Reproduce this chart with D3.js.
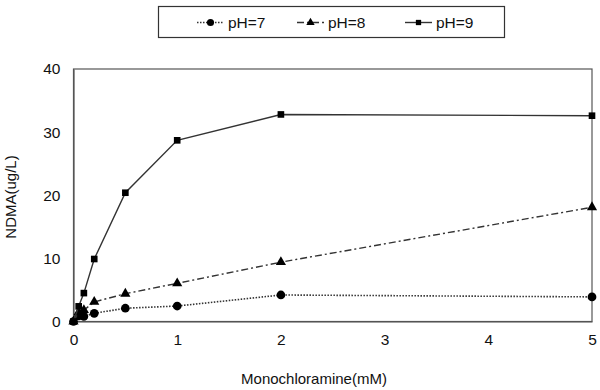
<!DOCTYPE html>
<html>
<head>
<meta charset="utf-8">
<script src="https://cdn.jsdelivr.net/npm/d3@7"></script>
<style>
	body { margin: 0; background: #fff; }
	svg text { font-family: "Liberation Sans", Arial, sans-serif; fill: #111; }
</style>
</head>
<body>
<svg id="chart" width="600" height="390"></svg>
<script>
(function(){

	var dose = [0, 0.05, 0.1, 0.2, 0.5, 1, 2, 5];
	var ph7 = [0, 0.9, 0.8, 1.3, 2.1, 2.45, 4.2, 3.9];
	var ph8 = [0, 1.5, 1.8, 3.1, 4.4, 6.05, 9.4, 18.1];
	var ph9 = [0, 2.4, 4.5, 9.9, 20.4, 28.7, 32.8, 32.6];
	var xTicks = [0, 1, 2, 3, 4, 5];
	var yTicks = [0, 10, 20, 30, 40];
	var seriesNames = ["pH=7", "pH=8", "pH=9"];

	var series = [
		{ name : seriesNames[0], values : ph7, dash : "1.5,1.5", width : 1.6, marker : "circle" },
		{ name : seriesNames[1], values : ph8, dash : "7,3,2,3", width : 1.4, marker : "triangle" },
		{ name : seriesNames[2], values : ph9, dash : null, width : 1.4, marker : "square" }
	];

	var svg = d3.select("#chart");

	var x = d3.scaleLinear().domain([0, 5]).range([73.5, 592]);
	var y = d3.scaleLinear().domain([0, 40]).range([321.5, 69]);

	// plot frame
	svg.append("rect")
		.attr("x", x(0)).attr("y", y(40))
		.attr("width", x(5) - x(0)).attr("height", y(0) - y(40))
		.attr("fill", "none").attr("stroke", "#555").attr("stroke-width", 1.2);

	var xAxis = svg.append("g").attr("transform", "translate(0," + y(0) + ")")
		.call(d3.axisBottom(x).tickValues(xTicks).tickSize(0).tickPadding(12).tickFormat(d3.format("d")));
	var yAxis = svg.append("g").attr("transform", "translate(" + x(0) + ",0)")
		.call(d3.axisLeft(y).tickValues(yTicks).tickSize(0).tickPadding(13));

	[xAxis, yAxis].forEach(function(a){
		a.select(".domain").attr("stroke", "#555").attr("stroke-width", 1.2);
		a.selectAll("text").attr("font-size", 15.5).attr("font-family", "Liberation Sans, Arial, sans-serif").attr("fill", "#111");
	});

	svg.append("text")
		.attr("x", 314).attr("y", 384)
		.attr("text-anchor", "middle").attr("font-size", 15)
		.text("Monochloramine(mM)");

	svg.append("text")
		.attr("transform", "translate(16,197) rotate(-90)")
		.attr("text-anchor", "middle").attr("font-size", 15)
		.text("NDMA(ug/L)");

	var symbolFor = {
		circle : d3.symbol().type(d3.symbolCircle).size(60),
		triangle : d3.symbol().type(d3.symbolTriangle).size(45),
		square : d3.symbol().type(d3.symbolSquare).size(44)
	};

	var line = d3.line()
		.x(function(d) { return x(d[0]); })
		.y(function(d) { return y(d[1]); });

	series.forEach(function(s){
		var pts = dose.map(function(d, i) { return [d, s.values[i]]; });
		svg.append("path")
			.datum(pts)
			.attr("d", line)
			.attr("fill", "none")
			.attr("stroke", "#333")
			.attr("stroke-width", s.width)
			.attr("stroke-dasharray", s.dash);
		svg.append("g").selectAll("path").data(pts).enter().append("path")
			.attr("d", symbolFor[s.marker])
			.attr("transform", function(d) { return "translate(" + x(d[0]) + "," + y(d[1]) + ")"; })
			.attr("fill", "#000");
	});

	// legend
	var legend = svg.append("g");
	legend.append("rect")
		.attr("x", 158.5).attr("y", 6.5).attr("width", 346).attr("height", 31)
		.attr("fill", "#fff").attr("stroke", "#333").attr("stroke-width", 1.2);

	var legendX = [197, 297, 405];
	var legendSymbol = {
		circle : d3.symbol().type(d3.symbolCircle).size(40),
		triangle : d3.symbol().type(d3.symbolTriangle).size(30),
		square : d3.symbol().type(d3.symbolSquare).size(28)
	};

	series.forEach(function(s, i){
		var lx = legendX[i];
		legend.append("line")
			.attr("x1", lx).attr("x2", lx + 27).attr("y1", 22.5).attr("y2", 22.5)
			.attr("stroke", "#333").attr("stroke-width", s.width)
			.attr("stroke-dasharray", s.dash);
		legend.append("path")
			.attr("d", legendSymbol[s.marker])
			.attr("transform", "translate(" + (lx + 13.5) + ",22.5)")
			.attr("fill", "#000");
		legend.append("text")
			.attr("x", lx + 31).attr("y", 28)
			.attr("font-size", 15.5)
			.text(s.name);
	});

})();
</script>
</body>
</html>
